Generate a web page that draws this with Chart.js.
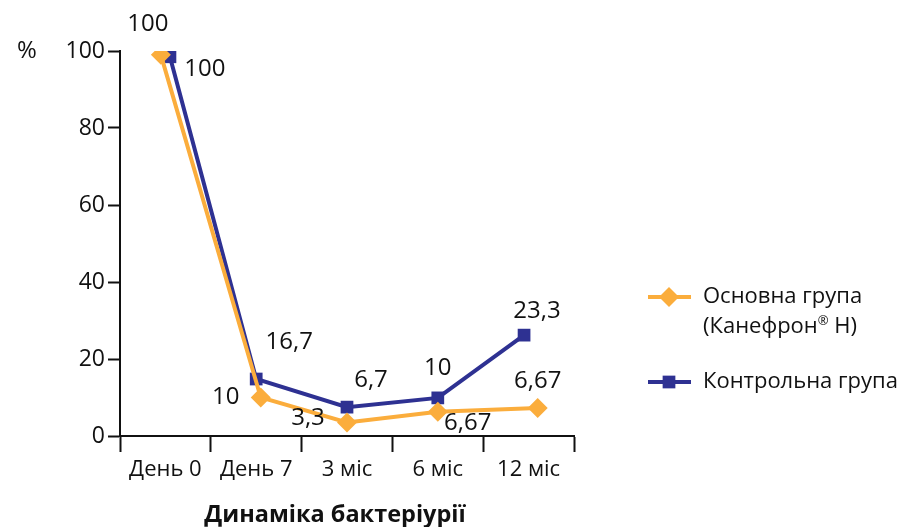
<!DOCTYPE html>
<html lang="uk">
<head>
    <meta charset="utf-8" />
    <title>Динаміка бактеріурії</title>
    <style>
        html, body { margin: 0; padding: 0; background: #fff; }
        #wrap { width: 898px; height: 527px; }
    </style>
</head>
<body>
    <div id="wrap"><canvas id="myChart" width="898" height="527"></canvas></div>

    <script src="https://cdn.jsdelivr.net/npm/chart.js@4/dist/chart.umd.min.js"></script>
    <script>
        // categories and values
        var categories = ["День 0", "День 7", "3 міс", "6 міс", "12 міс"];
        var mainValues = [99, 10, 3.5, 6.3, 7.3];
        var controlValues = [98.5, 14.8, 7.5, 9.9, 26.2];
        // where the markers sit inside each category (category index + shift)
        var mainPos = [-0.05, 1.05, 2.0, 3.0, 4.1];
        var controlPos = [0.05, 1.0, 2.0, 3.0, 3.95];
        // printed value labels
        var mainLabels = ["100", "10", "3,3", "6,67", "6,67"];
        var controlLabels = ["100", "16,7", "6,7", "10", "23,3"];
        var yTicks = [0, 20, 40, 60, 80, 100];
        // legend lines; the ® is printed small and raised
        var seriesNames = [["Основна група", ["(Канефрон", "®", " Н)"]], ["Контрольна група"]];

        var ORANGE = "#FBAD3C";
        var BLUE = "#2E3192";
        var FONT = "'Open Sans', 'Noto Sans', sans-serif";

        // label offsets (px) from the marker
        var mainOffsets = [[-13, -31], [-35, 0], [-39, -4], [30, 11], [0, -27]];
        var controlOffsets = [[35, 12], [33, -37], [24, -27], [0, -30], [13, -24]];

        function points(pos, vals) {
            return vals.map(function (v, i) { return { x: pos[i], y: v }; });
        }

        var extras = {
            id: "extras",
            beforeDatasetDraw: function (chart, args) {
                // thin white halo under the control line
                if (args.index !== 1) return;
                var ctx = chart.ctx;
                var pts = args.meta.data;
                ctx.save();
                ctx.strokeStyle = "#fff";
                ctx.lineWidth = 8;
                ctx.lineJoin = "round";
                ctx.beginPath();
                pts.forEach(function (p, i) {
                    if (i === 0) ctx.moveTo(p.x, p.y); else ctx.lineTo(p.x, p.y);
                });
                ctx.stroke();
                ctx.restore();
            },
            afterDatasetsDraw: function (chart) {
                var ctx = chart.ctx;
                ctx.save();
                ctx.fillStyle = "#111";
                ctx.font = "24px " + FONT;
                ctx.textAlign = "center";
                ctx.textBaseline = "middle";
                var sets = [[0, mainLabels, mainOffsets], [1, controlLabels, controlOffsets]];
                sets.forEach(function (s) {
                    var meta = chart.getDatasetMeta(s[0]);
                    meta.data.forEach(function (pt, i) {
                        ctx.fillText(s[1][i], pt.x + s[2][i][0], pt.y + s[2][i][1]);
                    });
                });

                // % sign next to top tick
                var ys = chart.scales.y;
                ctx.fillText("%", 27, ys.getPixelForValue(100));

                // bottom title, centred like the reference
                ctx.font = "bold 23.5px " + FONT;
                ctx.fillText("Динаміка бактеріурії", 335, 515);

                // legend
                var items = [
                    { color: ORANGE, style: "rectRot", r: 10, y: 297, lines: seriesNames[0] },
                    { color: BLUE, style: "rect", r: 9, y: 382, lines: seriesNames[1] }
                ];
                items.forEach(function (it) {
                    ctx.strokeStyle = it.color;
                    ctx.lineWidth = 4;
                    ctx.beginPath();
                    ctx.moveTo(648, it.y);
                    ctx.lineTo(691, it.y);
                    ctx.stroke();
                    ctx.fillStyle = it.color;
                    Chart.helpers.drawPoint(ctx, { pointStyle: it.style, radius: it.r, borderWidth: 0 }, 669, it.y);
                    ctx.fillStyle = "#111";
                    ctx.textAlign = "left";
                    it.lines.forEach(function (t, k) {
                        var ty = it.y + k * 30;
                        if (typeof t === "string") {
                            ctx.font = "22px " + FONT;
                            ctx.fillText(t, 703, ty);
                            return;
                        }
                        var x = 703;
                        t.forEach(function (part, j) {
                            var small = j === 1;
                            ctx.font = (small ? "13px " : "22px ") + FONT;
                            ctx.fillText(part, x, small ? ty - 6 : ty);
                            x += ctx.measureText(part).width;
                        });
                    });
                });
                ctx.restore();
            }
        };

        new Chart(document.getElementById("myChart"), {
            type: "line",
            data: {
                datasets: [{
                    label: "Основна група",
                    data: points(mainPos, mainValues),
                    xAxisID: "xl",
                    borderColor: ORANGE,
                    backgroundColor: ORANGE,
                    borderWidth: 4,
                    pointStyle: "rectRot",
                    pointRadius: 10,
                    pointBorderWidth: 0,
                    tension: 0
                }, {
                    label: "Контрольна група",
                    data: points(controlPos, controlValues),
                    xAxisID: "xl",
                    borderColor: BLUE,
                    backgroundColor: BLUE,
                    borderWidth: 4,
                    pointStyle: "rect",
                    pointRadius: 9,
                    pointBorderWidth: 0,
                    tension: 0
                }]
            },
            options: {
                responsive: false,
                animation: false,
                layout: { padding: { left: 40, right: 324, top: 51, bottom: 0 } },
                plugins: {
                    legend: { display: false },
                    tooltip: { enabled: false }
                },
                scales: {
                    xl: {
                        type: "linear",
                        min: -0.5,
                        max: 4.5,
                        display: false
                    },
                    x: {
                        type: "category",
                        labels: categories,
                        offset: true,
                        position: "bottom",
                        grid: {
                            offset: true,
                            drawOnChartArea: false,
                            tickLength: 16,
                            tickWidth: 2,
                            tickColor: "#111"
                        },
                        border: { color: "#111", width: 2 },
                        ticks: {
                            color: "#111",
                            padding: 5,
                            font: { family: FONT, size: 22 }
                        },
                        afterFit: function (s) { s.height = 91; }
                    },
                    y: {
                        min: 0,
                        max: 100,
                        afterBuildTicks: function (s) {
                            s.ticks = yTicks.map(function (v) { return { value: v }; });
                        },
                        grid: {
                            drawOnChartArea: false,
                            tickLength: 12,
                            tickWidth: 2,
                            tickColor: "#111"
                        },
                        border: { color: "#111", width: 2 },
                        ticks: {
                            color: "#111",
                            padding: 3,
                            font: { family: FONT, size: 23 }
                        },
                        afterFit: function (s) { s.width = 80; }
                    }
                }
            },
            plugins: [extras]
        });
    </script>
</body>
</html>
